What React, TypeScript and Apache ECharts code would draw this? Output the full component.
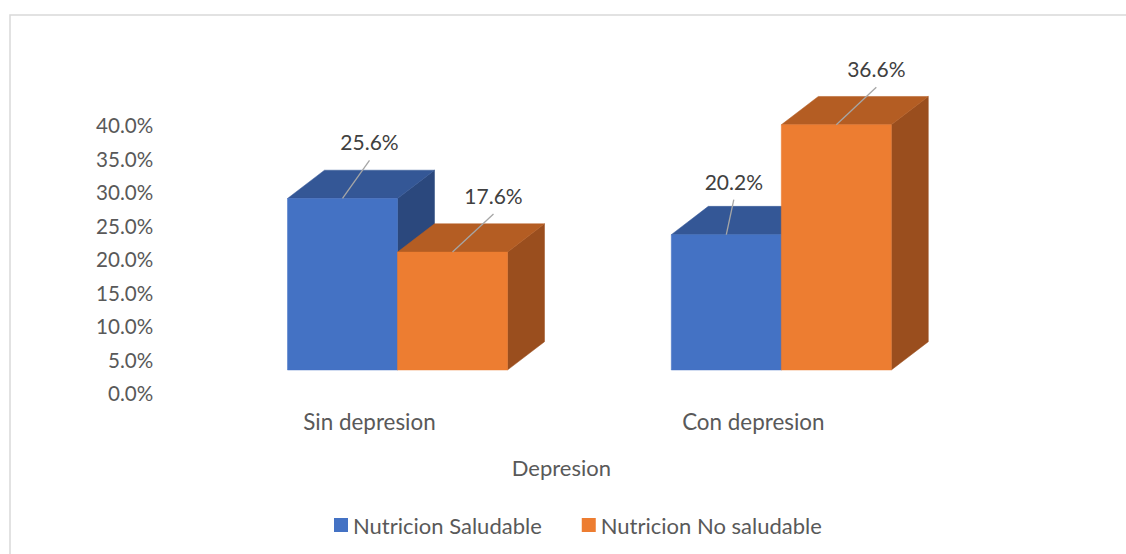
import React, { useEffect, useRef } from "react";
import * as echarts from "echarts";

// Chart data
const categories = ["Sin depresion", "Con depresion"];
const seriesNames = ["Nutricion Saludable", "Nutricion No saludable"];
const saludable = [25.6, 20.2];
const noSaludable = [17.6, 36.6];
const axisMin = 0;
const axisMax = 40;
const axisStep = 5;

// Leader-line offsets for the value labels (px, from the front top edge centre)
const leaderDx = [
  [27, 7.5],
  [41, 40],
];
const leaderDy = [
  [-38, -35],
  [-38, -37.5],
];

const FONT = "Lato, 'Open Sans', sans-serif";
const AXIS_COLOR = "#595959";
const LABEL_COLOR = "#404040";

// Face colours for each series: front, top, side
const faces = [
  { front: "#4472C4", top: "#345796", side: "#2B487D" },
  { front: "#ED7D31", top: "#B45D23", side: "#9A4E1E" },
];

const BAR_RATIO = 0.2866; // bar width as a share of the category band
const DEPTH_X = 37;
const DEPTH_Y = -28.3;

function makeRenderItem(slot: number) {
  return (params: any, api: any) => {
    const cat = api.value(0);
    const val = api.value(1);
    const base = api.coord([cat, 0]);
    const topPt = api.coord([cat, val]);
    const band = api.size([1, 0])[0];
    const w = band * BAR_RATIO;
    const x0 = slot === 0 ? base[0] - w : base[0];
    const x1 = x0 + w;
    const yb = base[1];
    const yt = topPt[1];
    const c = faces[slot];
    const cx = x0 + w / 2;
    const lx = cx + leaderDx[slot][params.dataIndex];
    const ly = yt + leaderDy[slot][params.dataIndex];
    return {
      type: "group",
      children: [
        {
          type: "polygon",
          shape: {
            points: [
              [x1, yt],
              [x1 + DEPTH_X, yt + DEPTH_Y],
              [x1 + DEPTH_X, yb + DEPTH_Y],
              [x1, yb],
            ],
          },
          style: { fill: c.side, stroke: c.side, lineWidth: 0.5 },
        },
        {
          type: "polygon",
          shape: {
            points: [
              [x0, yt],
              [x0 + DEPTH_X, yt + DEPTH_Y],
              [x1 + DEPTH_X, yt + DEPTH_Y],
              [x1, yt],
            ],
          },
          style: { fill: c.top, stroke: c.top, lineWidth: 0.5 },
        },
        {
          type: "rect",
          shape: { x: x0, y: yt, width: w, height: yb - yt },
          style: { fill: c.front, stroke: c.front, lineWidth: 0.5 },
        },
        {
          type: "line",
          z2: 10,
          shape: { x1: cx, y1: yt, x2: lx, y2: ly },
          style: { stroke: "#A6A6A6", lineWidth: 1.3 },
        },
        {
          type: "text",
          z2: 11,
          x: lx,
          y: ly - 18.5,
          style: {
            text: val.toFixed(1) + "%",
            fill: LABEL_COLOR,
            font: `21px ${FONT}`,
            align: "center",
            verticalAlign: "middle",
          },
        },
      ],
    };
  };
}

export default function App() {
  const ref = useRef<HTMLDivElement>(null);

  useEffect(() => {
    if (!ref.current) return;
    const chart = echarts.init(ref.current, undefined, { renderer: "svg" });
    const seriesData = [saludable, noSaludable];

    chart.setOption({
      animation: false,
      backgroundColor: "#ffffff",
      textStyle: { fontFamily: FONT },
      color: [faces[0].front, faces[1].front],
      graphic: [
        {
          type: "rect",
          silent: true,
          shape: { x: 10, y: 15, width: 1200, height: 600 },
          style: { fill: "none", stroke: "#D9D9D9", lineWidth: 1.5 },
        },
      ],
      grid: [
        // axis labels plane
        { left: 177.6, width: 767.6, top: 125, height: 268 },
        // bar plane
        { left: 205.6, width: 767.6, top: 102, height: 268 },
      ],
      xAxis: [
        {
          type: "category",
          gridIndex: 0,
          data: categories,
          axisLine: { show: false },
          axisTick: { show: false },
          axisLabel: { color: AXIS_COLOR, fontSize: 22.4, margin: 17.5, fontFamily: FONT },
          name: "Depresion",
          nameLocation: "middle",
          nameGap: 63,
          nameTextStyle: { color: AXIS_COLOR, fontSize: 22, fontFamily: FONT },
        },
        { type: "category", gridIndex: 1, data: categories, show: false },
      ],
      yAxis: [
        {
          type: "value",
          gridIndex: 0,
          min: axisMin,
          max: axisMax,
          interval: axisStep,
          axisLine: { show: false },
          axisTick: { show: false },
          splitLine: { show: false },
          axisLabel: {
            color: AXIS_COLOR,
            fontSize: 20.6,
            margin: 24.3,
            fontFamily: FONT,
            formatter: (v: number) => v.toFixed(1) + "%",
          },
        },
        { type: "value", gridIndex: 1, min: axisMin, max: axisMax, show: false },
      ],
      legend: {
        data: seriesNames,
        left: 329,
        top: 509,
        icon: "rect",
        itemWidth: 14,
        itemHeight: 14,
        itemGap: 40,
        textStyle: { color: AXIS_COLOR, fontSize: 22, fontFamily: FONT },
      },
      series: seriesNames.map((name, slot) => ({
        name,
        type: "custom",
        xAxisIndex: 1,
        yAxisIndex: 1,
        renderItem: makeRenderItem(slot),
        data: seriesData[slot].map((v, i) => [i, v]),
        itemStyle: { color: faces[slot].front },
      })),
    });

    return () => chart.dispose();
  }, []);

  return (
    <div
      ref={ref}
      style={{ position: "fixed", left: 0, top: 0, width: 1126, height: 554, background: "#fff" }}
    />
  );
}
